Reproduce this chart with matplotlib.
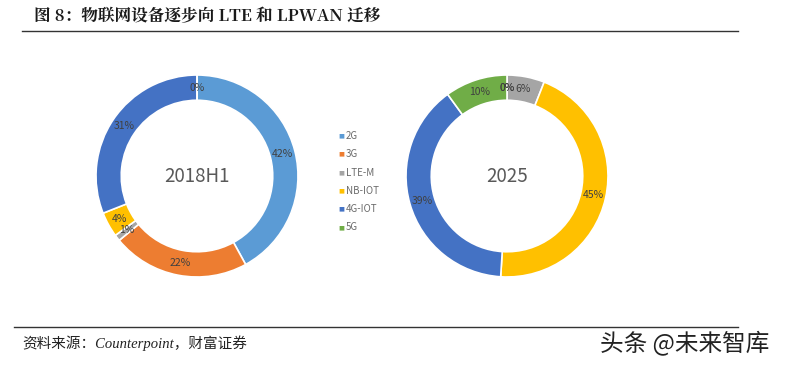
import math
import matplotlib.pyplot as plt

plt.rcParams['font.family'] = ['Noto Sans CJK SC', 'DejaVu Sans']

# data
categories = ['2G', '3G', 'LTE-M', 'NB-IOT', '4G-IOT', '5G']
share_2018h1 = [42, 22, 1, 4, 31, 0]
share_2025 = [0, 0, 6, 45, 39, 10]
colors = ['#5B9BD5', '#ED7D31', '#A5A5A5', '#FFC000', '#4472C4', '#70AD47']

W, H = 788, 367
fig = plt.figure(figsize=(W / 100, H / 100), dpi=100)


def px_axes(cx, cy, r):
    return fig.add_axes([(cx - r) / W, 1 - (cy + r) / H, 2 * r / W, 2 * r / H])


def donut(ax, values, center_text):
    wedges, _ = ax.pie(values, colors=colors, startangle=90, counterclock=False,
                       radius=1.0, wedgeprops=dict(width=0.25, edgecolor='white', linewidth=1.2))
    r_mid = 1.0 - 0.25 / 2
    for w, v in zip(wedges, values):
        ang = math.radians((w.theta1 + w.theta2) / 2)
        ax.text(r_mid * math.cos(ang), r_mid * math.sin(ang), f'{v}%',
                ha='center', va='center', fontsize=7.5, color='#404040')
    ax.text(0, 0, center_text, ha='center', va='center', fontsize=13.5, color='#595959')
    ax.set_xlim(-1.01, 1.01)
    ax.set_ylim(-1.01, 1.01)
    ax.set_aspect('equal')
    ax.axis('off')


ax1 = px_axes(197, 176, 102)
donut(ax1, share_2018h1, '2018H1')
ax2 = px_axes(507, 176, 102)
donut(ax2, share_2025, '2025')

# legend
for i, lab in enumerate(categories):
    y = 1 - (136 + i * 18.3) / H
    fig.text(338 / W, y, '\u25a0', color=colors[i], fontsize=4.5, va='center', ha='left',
             family='DejaVu Sans')
    fig.text(346 / W, y, lab, color='#6b6b6b', fontsize=7, va='center', ha='left')

# title and rules
fig.text(34 / W, 1 - 17 / H, '图 8：物联网设备逐步向 LTE 和 LPWAN 迁移', fontsize=12,
         fontweight='bold', va='center', ha='left', color='#1a1a1a',
         family=['Noto Serif CJK SC', 'Noto Sans CJK SC', 'DejaVu Serif'])
fig.add_artist(plt.Line2D([22 / W, 738 / W], [1 - 31 / H, 1 - 31 / H], color='#333333', lw=1))
fig.add_artist(plt.Line2D([14 / W, 738 / W], [1 - 327 / H, 1 - 327 / H], color='#333333', lw=1))

fig.text(22 / W, 1 - 343 / H, '资料来源：Counterpoint，财富证券', fontsize=10.5, style='italic',
         va='center', ha='left', color='#222222',
         family=['Liberation Serif', 'Noto Sans CJK SC'])
fig.text(600 / W, 1 - 343 / H, '头条 @未来智库', fontsize=17, va='center', ha='left',
         color='#222222')

fig.savefig('out.png', dpi=100)
